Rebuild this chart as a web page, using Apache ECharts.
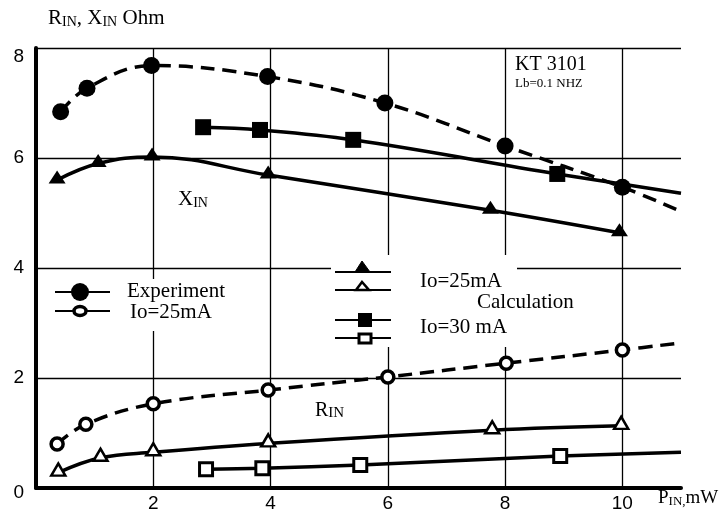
<!DOCTYPE html>
<html>
<head>
<meta charset="utf-8">
<script src="https://cdn.jsdelivr.net/npm/echarts@6/dist/echarts.min.js"></script>
<style>html,body{margin:0;padding:0;background:#fff}#c{width:728px;height:516px}</style>
</head>
<body>
<div id="c"></div>
<script>
// ---- axis ticks ----
const xTickValues = [2, 4, 6, 8, 10];
const yTickValues = [0, 2, 4, 6, 8];
const xGridValues = [2, 4, 6, 8, 10];
const yGridValues = [2, 4, 6, 8];

// ---- Experiment, X_IN (filled circles, dashed) ----
const expX_x = [0.42, 0.87, 1.97, 3.95, 5.95, 8.0, 10.0];
const expX_y = [6.84, 7.27, 7.68, 7.48, 7.0, 6.22, 5.47];
const expX_end = [10.95, 5.05];

// ---- Experiment, R_IN (open circles, dashed) ----
const expR_x = [0.36, 0.85, 2.0, 3.96, 6.0, 8.02, 10.0];
const expR_y = [0.8, 1.16, 1.53, 1.78, 2.02, 2.27, 2.51];
const expR_end = [11.0, 2.64];

// ---- Calculation Io=25mA, X_IN (filled triangles) ----
const c25X_x = [0.36, 1.06, 1.98, 3.96, 7.75, 9.95];
const c25X_y = [5.6, 5.9, 6.02, 5.69, 5.05, 4.64];

// ---- Calculation Io=25mA, R_IN (open triangles) ----
const c25R_x = [0.38, 1.1, 2.0, 3.96, 7.78, 9.98];
const c25R_y = [0.28, 0.55, 0.65, 0.81, 1.05, 1.13];

// ---- Calculation Io=30mA, X_IN (filled squares) ----
const c30X_x = [2.85, 3.82, 5.41, 8.89];
const c30X_y = [6.56, 6.51, 6.33, 5.71];
const c30X_end = [11.0, 5.36];

// ---- Calculation Io=30mA, R_IN (open squares) ----
const c30R_x = [2.9, 3.86, 5.53, 8.94];
const c30R_y = [0.34, 0.36, 0.42, 0.58];
const c30R_end = [11.0, 0.65];

const SERIF = '"Liberation Serif", "DejaVu Serif", serif';
const SANS = '"Liberation Sans", Arial, sans-serif';

function build(xs, ys, end) {
  const d = xs.map((x, i) => [x, ys[i]]);
  if (end) d.push({ value: end, symbol: 'none' });
  return d;
}

const chart = echarts.init(document.getElementById('c'), null, { renderer: 'canvas' });

const lineBase = { color: '#000', width: 3.5 };
const dashed = Object.assign({}, lineBase, { type: [14, 8] });

function lineSeries(name, data, opts) {
  return Object.assign({
    name: name, type: 'line', data: data, z: 3,
    smooth: 0.4, showSymbol: true, showAllSymbol: true,
    lineStyle: lineBase, animation: false, silent: true
  }, opts);
}

const option = {
  animation: false,
  backgroundColor: '#fff',
  grid: { left: 36, right: 47, top: 48, bottom: 28, containLabel: false },
  xAxis: {
    type: 'value', min: 0, max: 11, interval: 2,
    axisLine: { show: true, onZero: false, lineStyle: { color: '#000', width: 4 } },
    axisTick: { show: false },
    splitLine: { show: false },
    axisLabel: {
      show: true, margin: 6, color: '#000', fontSize: 19, fontFamily: SANS,
      showMinLabel: false, showMaxLabel: false,
      formatter: v => xTickValues.indexOf(v) >= 0 ? String(v) : ''
    }
  },
  yAxis: {
    type: 'value', min: 0, max: 8, interval: 2,
    axisLine: { show: true, onZero: false, lineStyle: { color: '#000', width: 4 } },
    axisTick: { show: false },
    splitLine: { show: false },
    axisLabel: {
      margin: 12, color: '#000', fontSize: 19, fontFamily: SANS,
      formatter: v => {
        if (yTickValues.indexOf(v) < 0) return '';
        if (v === 8) return '{t|' + v + '}';
        if (v === 0) return '{b|' + v + '}';
        return String(v);
      },
      rich: {
        t: { fontSize: 19, fontFamily: SANS, color: '#000', padding: [18, 0, 0, 0] },
        b: { fontSize: 19, fontFamily: SANS, color: '#000', padding: [10, 0, 0, 0] }
      }
    }
  },
  series: [
    {
      type: 'line', z: 1, data: [[0, 0]], symbol: 'none', silent: true,
      lineStyle: { opacity: 0 },
      markLine: {
        z: 1, silent: true, symbol: 'none', animation: false,
        label: { show: false },
        lineStyle: { color: '#000', width: 1.3, type: 'solid' },
        emphasis: { disabled: true },
        data: xGridValues.map(v => ({ xAxis: v })).concat(yGridValues.map(v => ({ yAxis: v })))
      }
    },
    lineSeries('Experiment X', build(expX_x, expX_y, expX_end), {
      symbol: 'circle', symbolSize: 17,
      itemStyle: { color: '#000' }, lineStyle: dashed
    }),
    lineSeries('Experiment R', build(expR_x, expR_y, expR_end), {
      symbol: 'circle', symbolSize: 12,
      itemStyle: { color: '#fff', borderColor: '#000', borderWidth: 3.5 }, lineStyle: dashed
    }),
    lineSeries('Calc 25 X', build(c25X_x, c25X_y), {
      symbol: 'triangle', symbolSize: [17, 13], symbolOffset: [0, -3],
      itemStyle: { color: '#000' }
    }),
    lineSeries('Calc 25 R', build(c25R_x, c25R_y), {
      symbol: 'triangle', symbolSize: [14, 12], symbolOffset: [0, -3],
      itemStyle: { color: '#fff', borderColor: '#000', borderWidth: 2.5 }
    }),
    lineSeries('Calc 30 X', build(c30X_x, c30X_y, c30X_end), {
      symbol: 'rect', symbolSize: 16,
      itemStyle: { color: '#000' }
    }),
    lineSeries('Calc 30 R', build(c30R_x, c30R_y, c30R_end), {
      symbol: 'rect', symbolSize: 13,
      itemStyle: { color: '#fff', borderColor: '#000', borderWidth: 3 }
    })
  ],
  graphic: [
    // white-outs where the grid is interrupted by the legends
    { type: 'rect', z: 2, silent: true, shape: { x: 120, y: 279, width: 115, height: 52 }, style: { fill: '#fff' } },
    { type: 'rect', z: 2, silent: true, shape: { x: 331, y: 255, width: 186, height: 92 }, style: { fill: '#fff' } },

    // axis title
    { type: 'text', z: 5, left: 48, top: 8, style: {
      text: '{m|R}{s|IN}{m|, X}{s|IN}{m| Ohm}',
      rich: {
        m: { fontSize: 21, fontFamily: SERIF, fill: '#000', verticalAlign: 'bottom', lineHeight: 24 },
        s: { fontSize: 14, fontFamily: SERIF, fill: '#000', verticalAlign: 'bottom', lineHeight: 14 }
      } } },
    // X_IN label
    { type: 'text', z: 5, left: 178, top: 189, style: {
      text: '{m|X}{s|IN}',
      rich: {
        m: { fontSize: 21, fontFamily: SERIF, fill: '#000', verticalAlign: 'bottom', lineHeight: 24 },
        s: { fontSize: 14, fontFamily: SERIF, fill: '#000', verticalAlign: 'bottom', lineHeight: 14 }
      } } },
    // R_IN label
    { type: 'text', z: 5, left: 315, top: 401, style: {
      text: '{m|R}{s|IN}',
      rich: {
        m: { fontSize: 20, fontFamily: SERIF, fill: '#000', verticalAlign: 'bottom', lineHeight: 22 },
        s: { fontSize: 15, fontFamily: SERIF, fill: '#000', verticalAlign: 'bottom', lineHeight: 19 }
      } } },
    // KT 3101
    { type: 'text', z: 5, left: 515, top: 55, style: { text: 'KT 3101', font: '20px ' + SERIF, fill: '#000' } },
    { type: 'text', z: 5, left: 515, top: 77, style: {
      text: '{m|Lb=0.1 NH}{s|Z}',
      rich: {
        m: { fontSize: 13, fontFamily: SERIF, fill: '#000', verticalAlign: 'bottom', lineHeight: 15 },
        s: { fontSize: 12, fontFamily: SERIF, fill: '#000', verticalAlign: 'bottom', lineHeight: 11 }
      } } },
    // x-axis title
    { type: 'text', z: 5, left: 658, top: 489, style: {
      text: '{m|P}{s|IN,}{m|mW}',
      rich: {
        m: { fontSize: 19, fontFamily: SERIF, fill: '#000', verticalAlign: 'bottom', lineHeight: 22 },
        s: { fontSize: 13, fontFamily: SERIF, fill: '#000', verticalAlign: 'bottom', lineHeight: 13 }
      } } },

    // Experiment legend
    { type: 'line', z: 5, shape: { x1: 55, y1: 292, x2: 110, y2: 292 }, style: { stroke: '#000', lineWidth: 2 } },
    { type: 'circle', z: 6, shape: { cx: 80, cy: 292, r: 9 }, style: { fill: '#000' } },
    { type: 'line', z: 5, shape: { x1: 55, y1: 311, x2: 110, y2: 311 }, style: { stroke: '#000', lineWidth: 2 } },
    { type: 'ellipse', z: 6, shape: { cx: 80, cy: 311, rx: 6, ry: 4.5 }, style: { fill: '#fff', stroke: '#000', lineWidth: 3.5 } },
    { type: 'text', z: 5, left: 127, top: 281, style: { text: 'Experiment', font: '21px ' + SERIF, fill: '#000' } },
    { type: 'text', z: 5, left: 130, top: 302, style: { text: 'Io=25mA', font: '21px ' + SERIF, fill: '#000' } },

    // Calculation legend
    { type: 'line', z: 5, shape: { x1: 335, y1: 272, x2: 391, y2: 272 }, style: { stroke: '#000', lineWidth: 2 } },
    { type: 'polygon', z: 6, shape: { points: [[355, 272], [362, 261], [370, 272]] }, style: { fill: '#000', stroke: '#000', lineWidth: 1 } },
    { type: 'line', z: 5, shape: { x1: 335, y1: 290, x2: 391, y2: 290 }, style: { stroke: '#000', lineWidth: 2 } },
    { type: 'polygon', z: 6, shape: { points: [[356, 290], [362, 282], [369, 290]] }, style: { fill: '#fff', stroke: '#000', lineWidth: 2.5 } },
    { type: 'line', z: 5, shape: { x1: 335, y1: 320, x2: 391, y2: 320 }, style: { stroke: '#000', lineWidth: 2 } },
    { type: 'rect', z: 6, shape: { x: 358, y: 313, width: 14, height: 14 }, style: { fill: '#000' } },
    { type: 'line', z: 5, shape: { x1: 335, y1: 338, x2: 391, y2: 338 }, style: { stroke: '#000', lineWidth: 2 } },
    { type: 'rect', z: 6, shape: { x: 359, y: 334, width: 12, height: 9 }, style: { fill: '#fff', stroke: '#000', lineWidth: 3 } },
    { type: 'text', z: 5, left: 420, top: 271, style: { text: 'Io=25mA', font: '21px ' + SERIF, fill: '#000' } },
    { type: 'text', z: 5, left: 477, top: 292, style: { text: 'Calculation', font: '21px ' + SERIF, fill: '#000' } },
    { type: 'text', z: 5, left: 420, top: 317, style: { text: 'Io=30 mA', font: '21px ' + SERIF, fill: '#000' } }
  ]
};

chart.setOption(option);
</script>
</body>
</html>
